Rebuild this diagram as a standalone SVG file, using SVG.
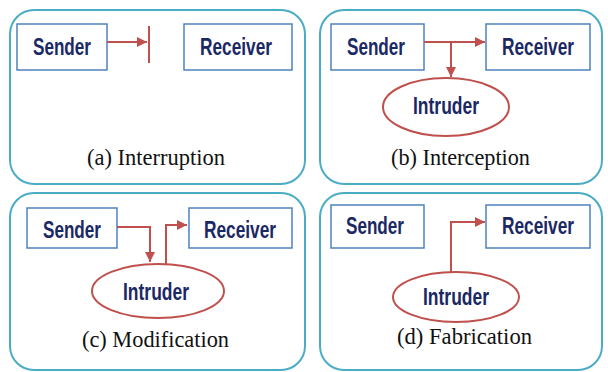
<svg xmlns="http://www.w3.org/2000/svg" width="608" height="372" viewBox="0 0 608 372">
<style>
.panel{fill:#fff;stroke:#4bacc6;stroke-width:2}
.box{fill:#fff;stroke:#4f81bd;stroke-width:1.5}
.ell{fill:#fff;stroke:#c0504d;stroke-width:2}
.nt{font-family:"Liberation Sans",Arial,sans-serif;font-weight:bold;font-size:23px;fill:#1a2864;text-anchor:middle}
.cap{font-family:"Liberation Serif","Times New Roman",serif;font-size:24px;fill:#111}
.con{fill:none;stroke:#c0504d;stroke-width:2}
</style>
<defs>
<marker id="ah" viewBox="0 0 10 10" refX="10" refY="5" markerWidth="5" markerHeight="5" orient="auto" markerUnits="strokeWidth">
<path d="M0,0 L10,5 L0,10 z" fill="#c0504d"/>
</marker>
</defs>
<rect width="608" height="372" fill="#fff"/>
<g id="panels">
<rect class="panel" x="10" y="10" width="295" height="174" rx="24"/>
<rect class="panel" x="320" y="10" width="282" height="174" rx="24"/>
<rect class="panel" x="10" y="193" width="295" height="177" rx="24"/>
<rect class="panel" x="320" y="193" width="282" height="177" rx="24"/>
</g>
<g id="a-sender"><rect class="box" x="17" y="24" width="90" height="46"/><text class="nt" x="62" y="55" textLength="58" lengthAdjust="spacingAndGlyphs">Sender</text></g>
<g id="a-receiver"><rect class="box" x="184" y="24" width="108" height="46"/><text class="nt" x="236" y="55" textLength="72" lengthAdjust="spacingAndGlyphs">Receiver</text></g>
<g id="b-sender"><rect class="box" x="331" y="24" width="93" height="46"/><text class="nt" x="376" y="55" textLength="58" lengthAdjust="spacingAndGlyphs">Sender</text></g>
<g id="b-receiver"><rect class="box" x="486" y="24" width="104" height="46"/><text class="nt" x="538" y="55" textLength="72" lengthAdjust="spacingAndGlyphs">Receiver</text></g>
<g id="b-intruder"><ellipse class="ell" cx="446" cy="107" rx="63" ry="29"/><text class="nt" x="446" y="114" textLength="66" lengthAdjust="spacingAndGlyphs">Intruder</text></g>
<g id="c-sender"><rect class="box" x="27" y="208" width="90" height="40"/><text class="nt" x="72" y="238" textLength="58" lengthAdjust="spacingAndGlyphs">Sender</text></g>
<g id="c-receiver"><rect class="box" x="189" y="208" width="103" height="40"/><text class="nt" x="240" y="238" textLength="72" lengthAdjust="spacingAndGlyphs">Receiver</text></g>
<g id="c-intruder"><ellipse class="ell" cx="158" cy="291" rx="66" ry="27"/><text class="nt" x="156" y="300" textLength="66" lengthAdjust="spacingAndGlyphs">Intruder</text></g>
<g id="d-sender"><rect class="box" x="331" y="205" width="93" height="43"/><text class="nt" x="375" y="234" textLength="58" lengthAdjust="spacingAndGlyphs">Sender</text></g>
<g id="d-receiver"><rect class="box" x="486" y="205" width="104" height="43"/><text class="nt" x="538" y="234" textLength="72" lengthAdjust="spacingAndGlyphs">Receiver</text></g>
<g id="d-intruder"><ellipse class="ell" cx="456" cy="297" rx="63" ry="25"/><text class="nt" x="456" y="305" textLength="66" lengthAdjust="spacingAndGlyphs">Intruder</text></g>
<g id="connectors">
<path class="con" d="M107,42 H147" marker-end="url(#ah)"/>
<path class="con" d="M149,26 V63"/>
<path class="con" d="M424,42 H485" marker-end="url(#ah)"/>
<path class="con" d="M451,42 V77" marker-end="url(#ah)"/>
<path class="con" d="M117,227 H150 V262" marker-end="url(#ah)"/>
<path class="con" d="M166,264 V225 H187" marker-end="url(#ah)"/>
<path class="con" d="M451,272 V222 H485" marker-end="url(#ah)"/>
</g>
<g id="captions">
<text class="cap" x="87" y="165" textLength="138" lengthAdjust="spacingAndGlyphs">(a) Interruption</text>
<text class="cap" x="391" y="165" textLength="139" lengthAdjust="spacingAndGlyphs">(b) Interception</text>
<text class="cap" x="82" y="347" textLength="147" lengthAdjust="spacingAndGlyphs">(c) Modification</text>
<text class="cap" x="397" y="344" textLength="135" lengthAdjust="spacingAndGlyphs">(d) Fabrication</text>
</g>
</svg>
